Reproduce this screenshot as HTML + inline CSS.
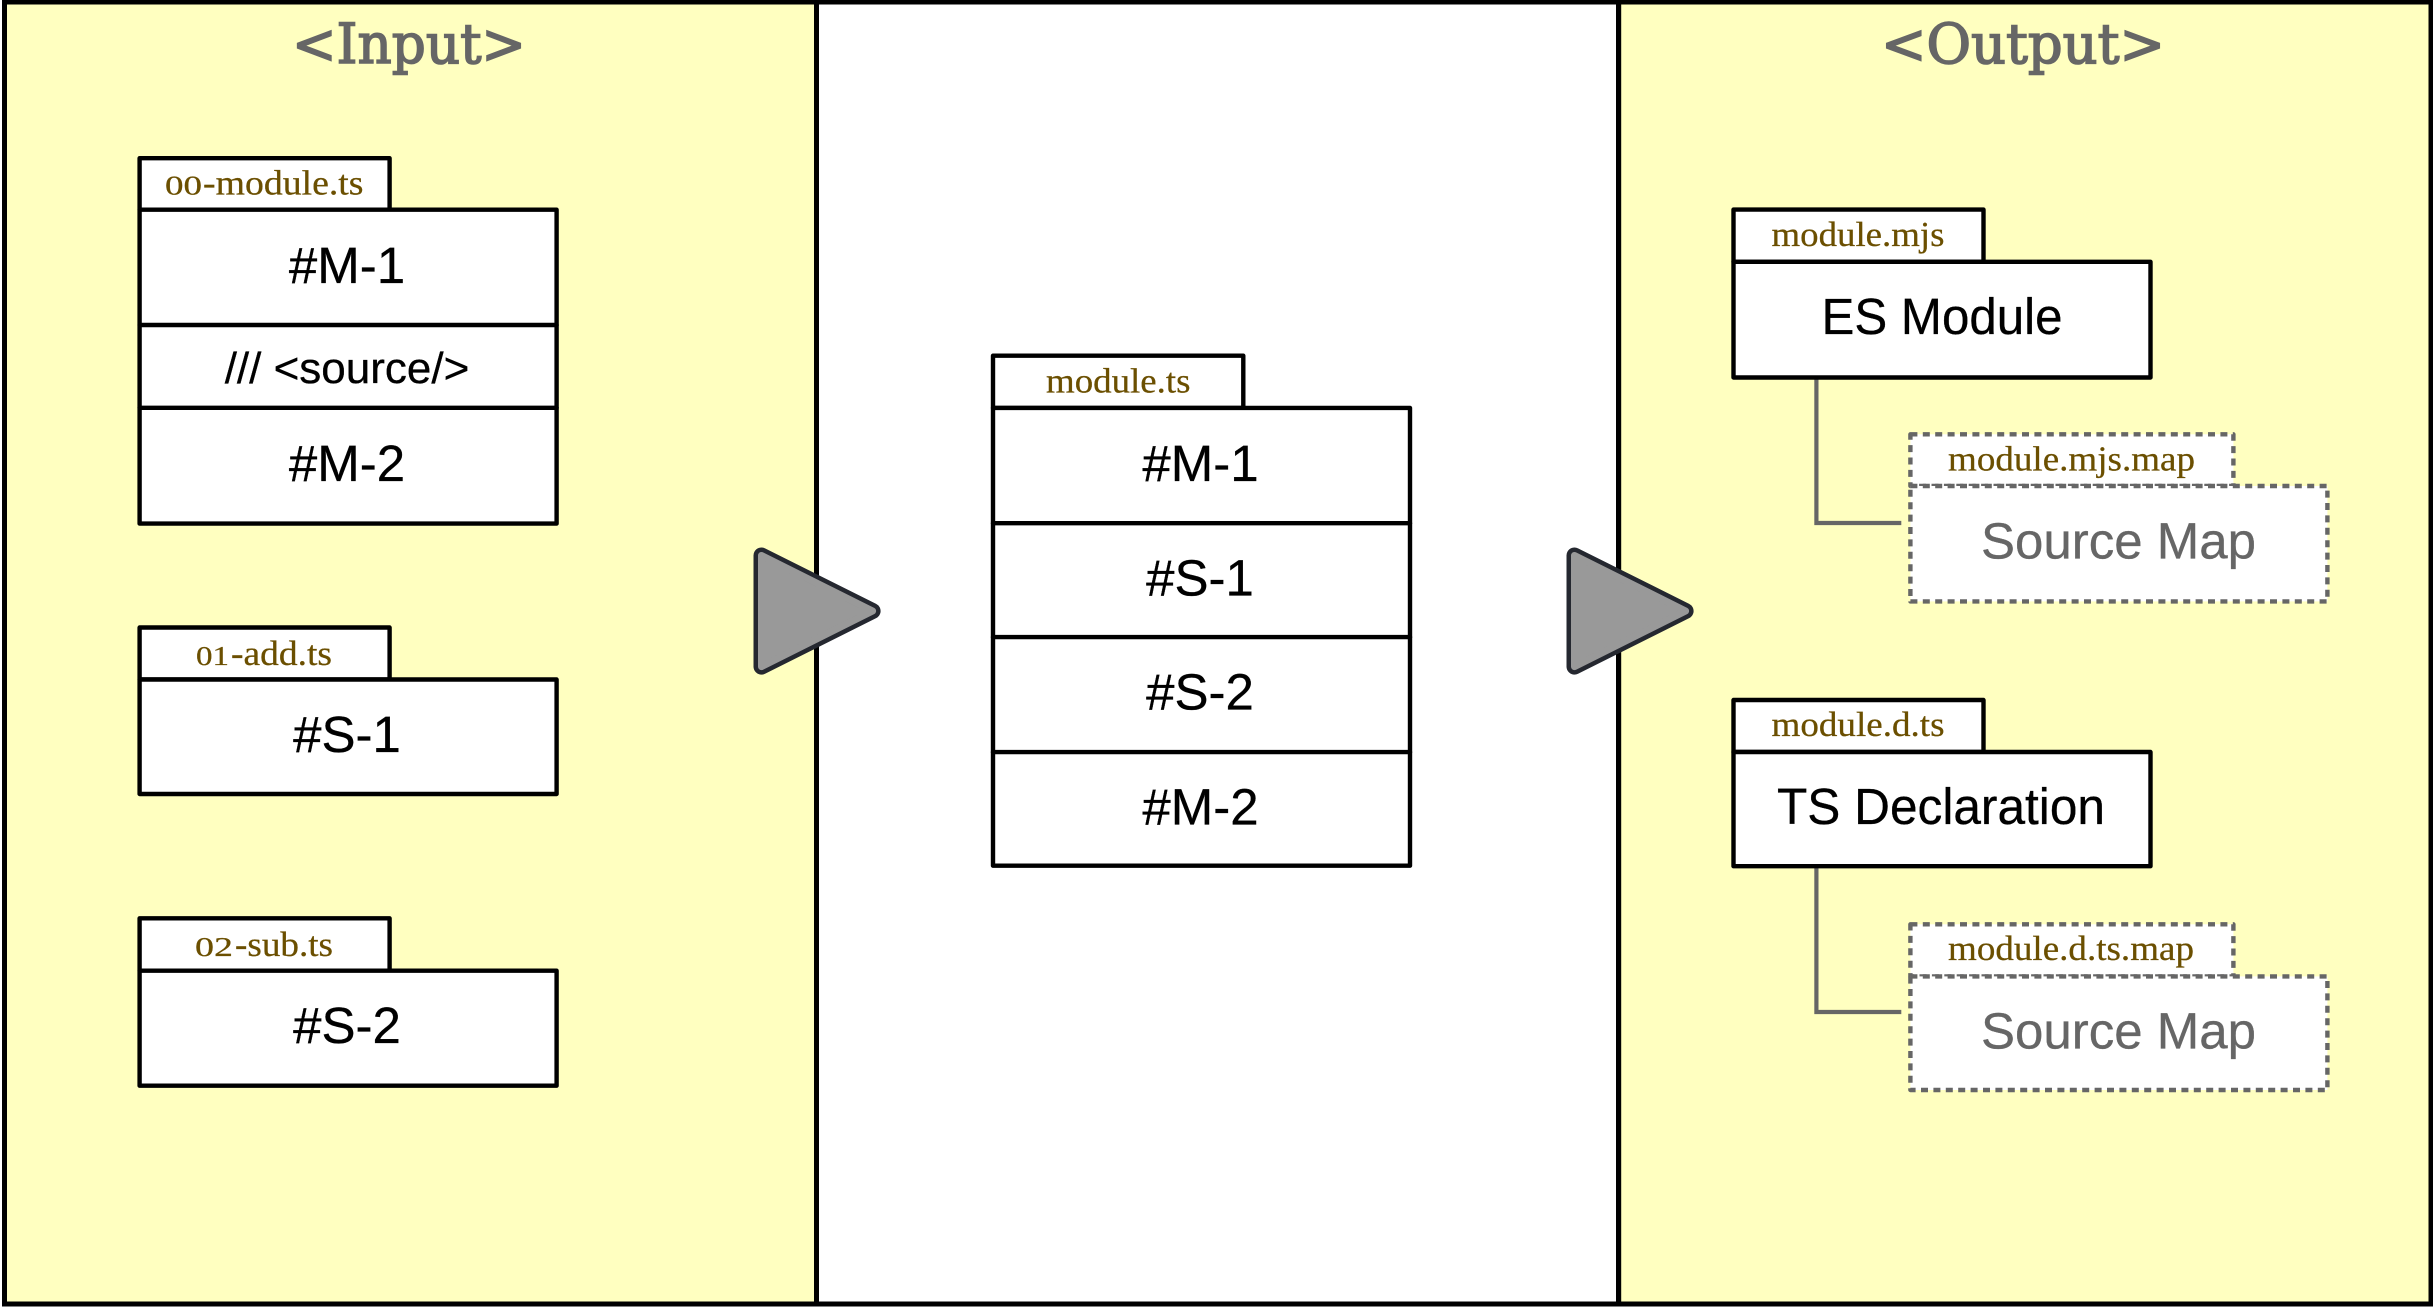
<!DOCTYPE html>
<html lang="en">
<head>
<meta charset="utf-8">
<title>TypeScript module bundling diagram</title>
<style>
html,body{margin:0;padding:0;background:#fff;width:2433px;height:1308px;overflow:hidden}
svg{display:block}
.box{fill:#fff;stroke:#000;stroke-width:4.4;stroke-linejoin:round;stroke-linecap:round}
.dash{fill:#fff;stroke:#666;stroke-width:4.4;stroke-dasharray:7 5.4;stroke-linejoin:round}
.line{fill:none;stroke:#000;stroke-width:4.4;stroke-linecap:round}
.conn{fill:none;stroke:#666;stroke-width:4.2}
.sans{font-family:"Liberation Sans",Arial,sans-serif;font-size:51px;fill:#000;text-anchor:middle;stroke:#000;stroke-width:.3}
.grey{fill:#666;stroke:#666}
.tab{font-family:"Liberation Serif",serif;font-size:35px;fill:#6b4f00;stroke:#6b4f00;stroke-width:.25}
.num{font-size:27px}
.title{font-family:"DejaVu Serif","Liberation Serif",serif;font-size:55px;fill:#666;stroke:#666;stroke-width:1.6}
</style>
</head>
<body>
<svg xmlns="http://www.w3.org/2000/svg" width="2433" height="1308" viewBox="0 0 2433 1308">
  <rect x="0" y="0" width="2433" height="1308" fill="#fff"/>
  <rect x="4.5" y="2" width="812" height="1302" fill="#ffffc0" stroke="#000" stroke-width="5"/>
  <rect x="816.5" y="2" width="802" height="1302" fill="#fff" stroke="#000" stroke-width="5"/>
  <rect x="1618.7" y="2" width="812.3" height="1302" fill="#ffffc0" stroke="#000" stroke-width="5"/>

  <text class="title" x="292" y="63" textLength="234" lengthAdjust="spacingAndGlyphs">&lt;Input&gt;</text>
  <text class="title" x="1881" y="63" textLength="284" lengthAdjust="spacingAndGlyphs">&lt;Output&gt;</text>

  <!-- 00-module.ts -->
  <g>
    <rect class="box" x="139.6" y="158.2" width="250" height="51.5"/>
    <rect class="box" x="139.6" y="209.7" width="417" height="313.9"/>
    <line class="line" x1="139.6" y1="325" x2="556.6" y2="325"/>
    <line class="line" x1="139.6" y1="407.8" x2="556.6" y2="407.8"/>
    <text class="tab" y="194.4"><tspan class="num" x="165" textLength="37" lengthAdjust="spacingAndGlyphs">00</tspan><tspan x="203" textLength="160.5" lengthAdjust="spacingAndGlyphs">-module.ts</tspan></text>
    <text class="sans" x="347" y="283">#M-1</text>
    <text class="sans" x="347" y="383" style="font-size:44px">/// &lt;source/&gt;</text>
    <text class="sans" x="347" y="481">#M-2</text>
  </g>

  <!-- 01-add.ts -->
  <g>
    <rect class="box" x="139.6" y="627.5" width="250" height="52"/>
    <rect class="box" x="139.6" y="679.5" width="417" height="114.5"/>
    <text class="tab" y="665"><tspan class="num" x="196" textLength="33" lengthAdjust="spacingAndGlyphs">01</tspan><tspan x="231" textLength="101" lengthAdjust="spacingAndGlyphs">-add.ts</tspan></text>
    <text class="sans" x="347" y="752">#S-1</text>
  </g>

  <!-- 02-sub.ts -->
  <g>
    <rect class="box" x="139.6" y="918.3" width="250" height="52.4"/>
    <rect class="box" x="139.6" y="970.7" width="417" height="115"/>
    <text class="tab" y="956"><tspan class="num" x="195" textLength="38" lengthAdjust="spacingAndGlyphs">02</tspan><tspan x="235" textLength="98" lengthAdjust="spacingAndGlyphs">-sub.ts</tspan></text>
    <text class="sans" x="347" y="1043">#S-2</text>
  </g>

  <!-- Arrows -->
  <g>
    <polygon points="761.5,555.5 761.5,666.6 872.6,611" fill="#252830" stroke="#252830" stroke-width="16" stroke-linejoin="round"/>
    <polygon points="761.5,555.5 761.5,666.6 872.6,611" fill="#999" stroke="#999" stroke-width="7" stroke-linejoin="round"/>
  </g>
  <g>
    <polygon points="1574.5,555.5 1574.5,666.6 1685.6,611" fill="#252830" stroke="#252830" stroke-width="16" stroke-linejoin="round"/>
    <polygon points="1574.5,555.5 1574.5,666.6 1685.6,611" fill="#999" stroke="#999" stroke-width="7" stroke-linejoin="round"/>
  </g>

  <!-- module.ts -->
  <g>
    <rect class="box" x="993" y="355.7" width="250.3" height="52.2"/>
    <rect class="box" x="993" y="407.9" width="417" height="457.8"/>
    <line class="line" x1="993" y1="523.2" x2="1410" y2="523.2"/>
    <line class="line" x1="993" y1="637.1" x2="1410" y2="637.1"/>
    <line class="line" x1="993" y1="752.1" x2="1410" y2="752.1"/>
    <text class="tab" x="1046" y="392.5" textLength="144.5" lengthAdjust="spacingAndGlyphs">module.ts</text>
    <text class="sans" x="1200.5" y="481">#M-1</text>
    <text class="sans" x="1200" y="595.5">#S-1</text>
    <text class="sans" x="1200" y="709.5">#S-2</text>
    <text class="sans" x="1200.5" y="824.5">#M-2</text>
  </g>

  <!-- Connectors -->
  <polyline class="conn" points="1816.4,377.5 1816.4,523 1901.3,523"/>
  <polyline class="conn" points="1816.4,866 1816.4,1012 1901.3,1012"/>

  <!-- ES Module -->
  <g>
    <rect class="box" x="1733.5" y="209.6" width="250" height="52.2"/>
    <rect class="box" x="1733.5" y="261.8" width="417" height="115.7"/>
    <text class="tab" x="1771.5" y="246.2" textLength="173" lengthAdjust="spacingAndGlyphs">module.mjs</text>
    <text class="sans" x="1942" y="334" textLength="241" lengthAdjust="spacingAndGlyphs">ES Module</text>
  </g>

  <!-- Source Map 1 -->
  <g>
    <rect class="dash" x="1910.4" y="434.3" width="323" height="51.7"/>
    <rect class="dash" x="1910.4" y="486" width="417" height="115.4"/>
    <text class="tab" x="1948" y="470.5" textLength="247" lengthAdjust="spacingAndGlyphs">module.mjs.map</text>
    <text class="sans grey" x="2118.5" y="558.5">Source Map</text>
  </g>

  <!-- TS Declaration -->
  <g>
    <rect class="box" x="1733.5" y="700" width="250" height="52"/>
    <rect class="box" x="1733.5" y="752" width="417" height="114.2"/>
    <text class="tab" x="1771.5" y="736" textLength="173" lengthAdjust="spacingAndGlyphs">module.d.ts</text>
    <text class="sans" x="1941" y="824" textLength="328" lengthAdjust="spacingAndGlyphs">TS Declaration</text>
  </g>

  <!-- Source Map 2 -->
  <g>
    <rect class="dash" x="1910.4" y="924.3" width="323" height="52.1"/>
    <rect class="dash" x="1910.4" y="976.4" width="417" height="113.6"/>
    <text class="tab" x="1948" y="960" textLength="246" lengthAdjust="spacingAndGlyphs">module.d.ts.map</text>
    <text class="sans grey" x="2118.5" y="1048.5">Source Map</text>
  </g>
</svg>
</body>
</html>
